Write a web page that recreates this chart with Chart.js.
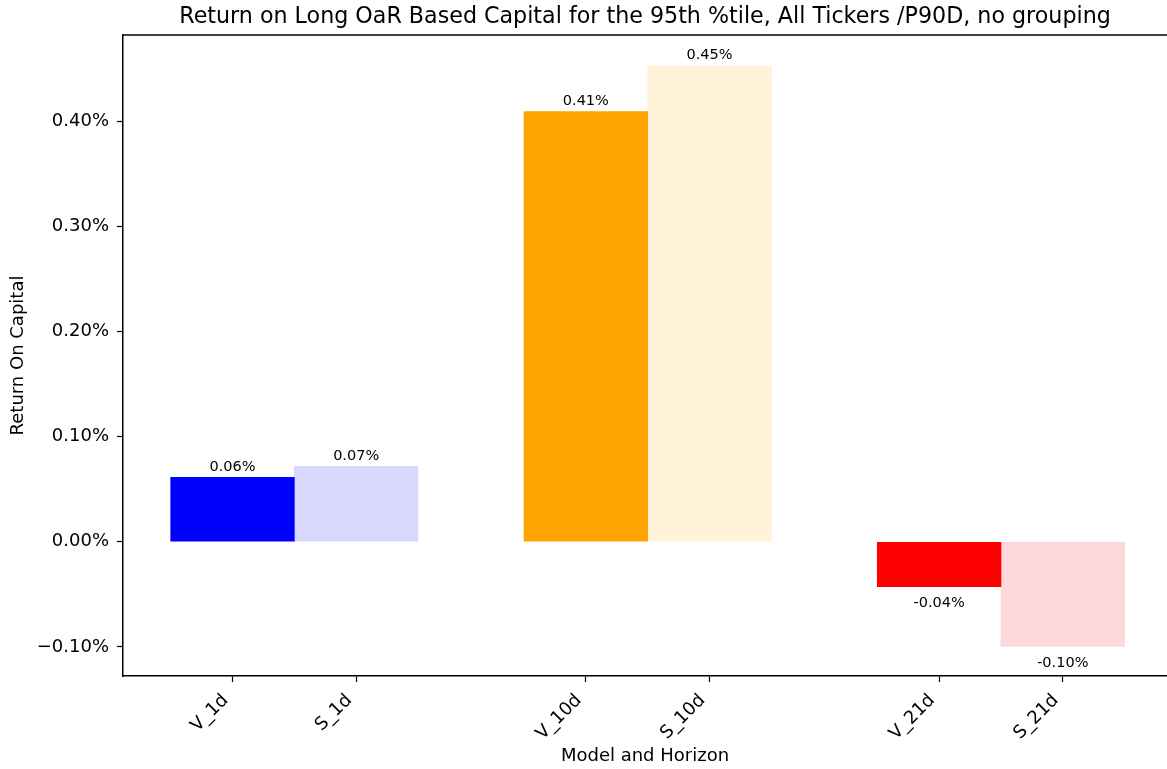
<!DOCTYPE html>
<html>
<head>
<meta charset="utf-8">
<script src="https://cdn.jsdelivr.net/npm/chart.js@4"></script>
<style>
  html, body { margin: 0; padding: 0; background: #ffffff; }
  #wrap { width: 1167px; height: 769px; }
</style>
</head>
<body>
<div id="wrap"><canvas id="chart" width="1167" height="769"></canvas></div>
<script>
// groups along the x axis and the two models inside each group
const horizons = ['1d', '10d', '21d'];
const models = ['V', 'S'];

// return on capital in percent
const vReturns = [0.0613, 0.4092, -0.0427];
const sReturns = [0.0717, 0.4528, -0.0996];

const yTicks = [-0.1, 0.0, 0.1, 0.2, 0.3, 0.4];

// strong colour for V, washed out (alpha .15) for S
const baseColors = ['0,0,255', '255,165,0', '255,0,0'];

const chartTitle = 'Return on Long OaR Based Capital for the 95th %tile, All Tickers /P90D, no grouping';
const xTitle = 'Model and Horizon';
const yTitle = 'Return On Capital';

// bar width 0.35 around each group centre, like a grouped matplotlib bar plot
const barWidth = 0.35;
const xMin = -0.485;
const xMax = 2.47;
const yMin = -0.1277;
const yMax = 0.482;

const FONT = 'DejaVu Sans';

// build the point list from the arrays above
const points = [];
const labels = [];
const colors = [];
horizons.forEach(function (h, g) {
  models.forEach(function (m, k) {
    const vals = m === 'V' ? vReturns : sReturns;
    points.push({ x: g + (k === 0 ? -barWidth / 2 : barWidth / 2), y: vals[g] });
    labels.push(m + '_' + h);
    colors.push(m === 'V' ? 'rgb(' + baseColors[g] + ')' : 'rgba(' + baseColors[g] + ',0.15)');
  });
});
const tickPositions = points.map(p => p.x);

function pct(v) {
  return v.toFixed(2) + '%';
}

// value labels above / below each bar plus the top spine
const barLabels = {
  id: 'barLabels',
  afterDatasetsDraw(chart) {
    const { ctx, chartArea } = chart;
    const meta = chart.getDatasetMeta(0);
    ctx.save();
    ctx.font = '14.5px "' + FONT + '"';
    ctx.fillStyle = '#000';
    ctx.textAlign = 'center';
    ctx.textBaseline = 'alphabetic';
    meta.data.forEach(function (bar, i) {
      const v = points[i].y;
      const y = v >= 0 ? bar.y - 6.3 : bar.y + 20.6;
      ctx.fillText(pct(v), bar.x, y);
    });
    // top spine
    ctx.strokeStyle = '#000';
    ctx.lineWidth = 1.5;
    ctx.beginPath();
    ctx.moveTo(chartArea.left, chartArea.top);
    ctx.lineTo(chartArea.right, chartArea.top);
    ctx.stroke();
    ctx.restore();
  }
};

new Chart(document.getElementById('chart'), {
  type: 'bar',
  data: {
    datasets: [{
      data: points,
      backgroundColor: colors,
      borderWidth: 0,
      categoryPercentage: 1.0,
      barPercentage: 1.0
    }]
  },
  options: {
    responsive: false,
    devicePixelRatio: 1,
    animation: false,
    layout: { padding: 0 },
    plugins: {
      legend: { display: false },
      tooltip: { enabled: false },
      title: {
        display: true,
        text: chartTitle,
        fullSize: false,
        color: '#000',
        font: { family: FONT, size: 22.2, weight: 'normal', lineHeight: 1.2 },
        padding: { top: 3.7, bottom: 4.7 }
      }
    },
    scales: {
      x: {
        type: 'linear',
        min: xMin,
        max: xMax,
        offset: false,
        afterBuildTicks(scale) {
          scale.ticks = tickPositions.map(v => ({ value: v }));
        },
        afterFit(scale) { scale.height = 93; },
        grid: {
          offset: false,
          drawOnChartArea: false,
          drawTicks: true,
          tickLength: 6,
          tickColor: '#000',
          tickWidth: 1.2
        },
        border: { display: true, color: '#000', width: 1.5 },
        ticks: {
          autoSkip: false,
          minRotation: 45,
          maxRotation: 45,
          padding: 8,
          labelOffset: -7,
          color: '#000',
          font: { family: FONT, size: 18 },
          callback: function (value, index) { return labels[index]; }
        },
        title: {
          display: true,
          text: xTitle,
          color: '#000',
          font: { family: FONT, size: 18, lineHeight: 1.2 },
          padding: { top: 0, bottom: 2 }
        }
      },
      y: {
        type: 'linear',
        min: yMin,
        max: yMax,
        afterBuildTicks(scale) {
          scale.ticks = yTicks.map(v => ({ value: v }));
        },
        afterFit(scale) { scale.width = 123; },
        grid: {
          drawOnChartArea: false,
          drawTicks: true,
          tickLength: 6,
          tickColor: '#000',
          tickWidth: 1.2
        },
        border: { display: true, color: '#000', width: 1.5 },
        ticks: {
          padding: 8,
          color: '#000',
          font: { family: FONT, size: 18 },
          callback: function (value) { return pct(value).replace('-', '\u2212'); }
        },
        title: {
          display: true,
          text: yTitle,
          color: '#000',
          font: { family: FONT, size: 18, lineHeight: 1.2 },
          padding: { top: 8, bottom: 0 }
        }
      }
    }
  },
  plugins: [barLabels]
});
</script>
</body>
</html>
